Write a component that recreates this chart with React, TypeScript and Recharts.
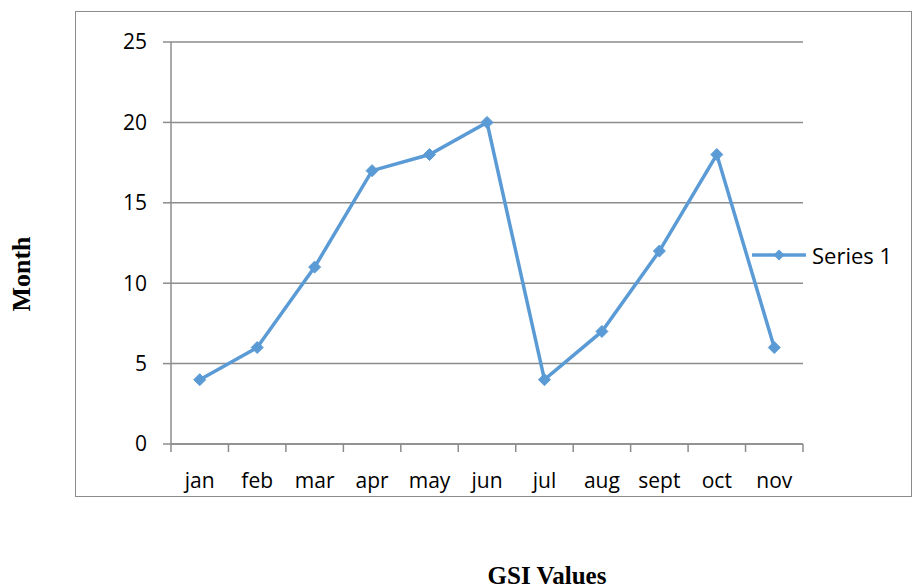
import { LineChart, Line, XAxis, YAxis, CartesianGrid } from 'recharts'

const months = ['jan', 'feb', 'mar', 'apr', 'may', 'jun', 'jul', 'aug', 'sept', 'oct', 'nov']
const series1 = [4, 6, 11, 17, 18, 20, 4, 7, 12, 18, 6]
const yTicks = [0, 5, 10, 15, 20, 25]

const data = months.map((m, i) => ({ month: m, pos: i + 0.5, value: series1[i] }))

const W = 913
const H = 588
const plotLeft = 171
const plotRight = 803
const band = (plotRight - plotLeft) / months.length
const blue = '#5B9BD5'
const grey = '#8c8c8c'
const labelFont = '"Open Sans", sans-serif'
const titleFont = '"Liberation Serif", "Times New Roman", serif'

function Diamond(props: any) {
  const { cx, cy } = props
  if (cx == null || cy == null) return null
  const r = 6
  return (
    <polygon
      points={`${cx},${cy - r} ${cx + r},${cy} ${cx},${cy + r} ${cx - r},${cy}`}
      fill={blue}
      stroke={blue}
    />
  )
}

// labels sit in the middle of each band, tick marks on the band edges
function MonthTick(props: any) {
  const { x, y, payload } = props
  const idx = payload.value
  if (idx >= months.length) return null
  return (
    <text
      x={x + band / 2}
      y={y}
      dy="0.71em"
      textAnchor="middle"
      fill="#000"
      fontSize={21}
      fontFamily={labelFont}
    >
      {months[idx]}
    </text>
  )
}

function SeriesLegend() {
  return (
    <div
      style={{
        position: 'absolute',
        left: 752,
        top: 240,
        display: 'flex',
        alignItems: 'center',
        fontFamily: labelFont,
        fontSize: 22,
        whiteSpace: 'nowrap',
      }}
    >
      <svg width={56} height={14}>
        <line x1={0} y1={7} x2={54} y2={7} stroke={blue} strokeWidth={3.5} />
        <polygon points="27,1.5 32.5,7 27,12.5 21.5,7" fill={blue} />
      </svg>
      <span style={{ marginLeft: 4 }}>Series 1</span>
    </div>
  )
}

export default function App() {
  return (
    <div style={{ position: 'absolute', left: 0, top: 0, width: W, height: H, background: '#fff' }}>
      <div
        style={{
          position: 'absolute',
          left: 75,
          top: 11,
          width: 912 - 75,
          height: 497 - 11,
          border: `1.5px solid ${grey}`,
          boxSizing: 'border-box',
        }}
      />
      <LineChart
        width={W}
        height={H}
        data={data}
        margin={{ top: 42, right: W - plotRight, bottom: 104, left: 0 }}
        style={{ position: 'absolute', left: 0, top: 0 }}
      >
        <CartesianGrid vertical={false} stroke={grey} strokeWidth={1.5} />
        <XAxis
          dataKey="pos"
          type="number"
          domain={[0, months.length]}
          ticks={months.map((_, i) => i).concat(months.length)}
          interval={0}
          height={40}
          stroke={grey}
          strokeWidth={1.5}
          tickSize={8}
          tickMargin={21}
          tick={<MonthTick />}
        />
        <YAxis
          domain={[0, 25]}
          ticks={yTicks}
          width={plotLeft}
          stroke={grey}
          strokeWidth={1.5}
          tickSize={8}
          tickMargin={16}
          tick={{ fill: '#000', fontSize: 21, fontFamily: labelFont }}
        />
        <Line
          dataKey="value"
          name="Series 1"
          stroke={blue}
          strokeWidth={3.5}
          dot={<Diamond />}
          activeDot={false}
          isAnimationActive={false}
        />
      </LineChart>
      <SeriesLegend />
      <div
        style={{
          position: 'absolute',
          left: 22,
          top: 274,
          transform: 'translate(-50%, -50%) rotate(-90deg)',
          fontFamily: titleFont,
          fontWeight: 'bold',
          fontSize: 26,
          whiteSpace: 'nowrap',
        }}
      >
        Month
      </div>
      <div
        style={{
          position: 'absolute',
          left: 547,
          top: 576,
          transform: 'translate(-50%, -50%)',
          fontFamily: titleFont,
          fontWeight: 'bold',
          fontSize: 25,
          whiteSpace: 'nowrap',
        }}
      >
        GSI Values
      </div>
    </div>
  )
}
